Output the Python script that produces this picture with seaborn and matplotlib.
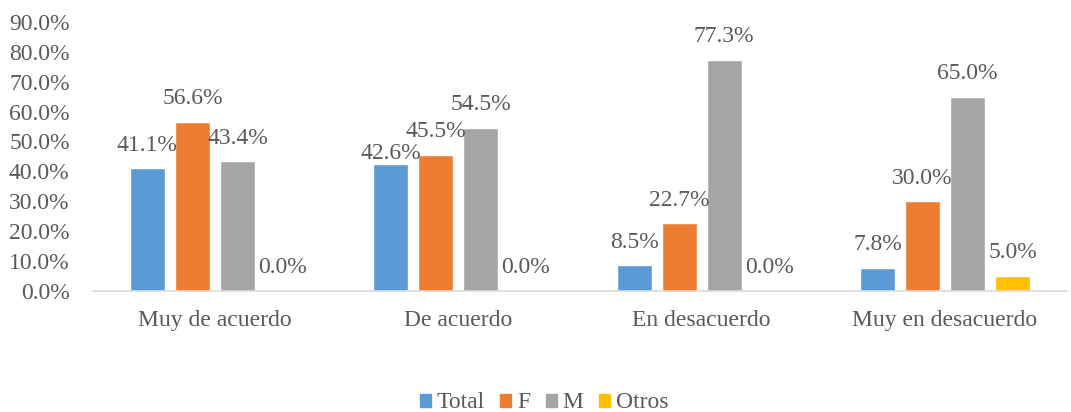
import pandas as pd
import numpy as np
import seaborn as sns
import matplotlib.pyplot as plt
from matplotlib.patches import Patch
from matplotlib.ticker import FuncFormatter

categorias = ["Muy de acuerdo", "De acuerdo", "En desacuerdo", "Muy en desacuerdo"]
series = ["Total", "F", "M", "Otros"]
total = [41.1, 42.6, 8.5, 7.8]
f_vals = [56.6, 45.5, 22.7, 30.0]
m_vals = [43.4, 54.5, 77.3, 65.0]
otros = [0.0, 0.0, 0.0, 5.0]
colores = ["#5B9BD5", "#ED7D31", "#A5A5A5", "#FFC000"]

df = pd.DataFrame({
    "cat": categorias * 4,
    "serie": np.repeat(series, 4),
    "valor": total + f_vals + m_vals + otros,
})

sns.set_style("white")
plt.rcParams['font.family'] = 'Liberation Serif'
txt = "#595959"
fs = 17

fig = plt.figure(figsize=[10.71, 4.12], dpi=100)
ax = fig.add_axes([0.087, 0.294, 0.909, 0.653])
sns.barplot(data=df, x="cat", y="valor", hue="serie", palette=colores,
            width=0.74, gap=0.22, ax=ax, legend=False, saturation=1)

for k, cont in enumerate(ax.containers):
    labs = ax.bar_label(cont, fmt="%.1f%%", padding=9, fontsize=fs, color=txt)
    if k == 0:
        # Excel nudged the "Total / De acuerdo" label down to clear its neighbour
        labs[1].xyann = (0, 0)

ax.set_ylim(0, 90)
ax.set_yticks(np.arange(0, 91, 10))
ax.yaxis.set_major_formatter(FuncFormatter(lambda v, p: f"{v:.1f}%"))
ax.set_xlabel("")
ax.set_ylabel("")
ax.tick_params(axis="both", labelsize=fs, colors=txt, length=0)
ax.tick_params(axis="x", pad=14)
ax.tick_params(axis="y", pad=17)
for s in ["top", "right", "left"]:
    ax.spines[s].set_visible(False)
ax.spines["bottom"].set_color("#D9D9D9")
ax.spines["bottom"].set_linewidth(1.2)

handles = [Patch(color=c, label=s) for c, s in zip(colores, series)]
leg = fig.legend(handles=handles, loc="center", ncol=4, frameon=False,
                 fontsize=fs, bbox_to_anchor=(0.508, 9 / 412), handlelength=0.47,
                 handleheight=0.47, handletextpad=0.25, columnspacing=0.65)
for t in leg.get_texts():
    t.set_color(txt)

plt.savefig("out.png")
